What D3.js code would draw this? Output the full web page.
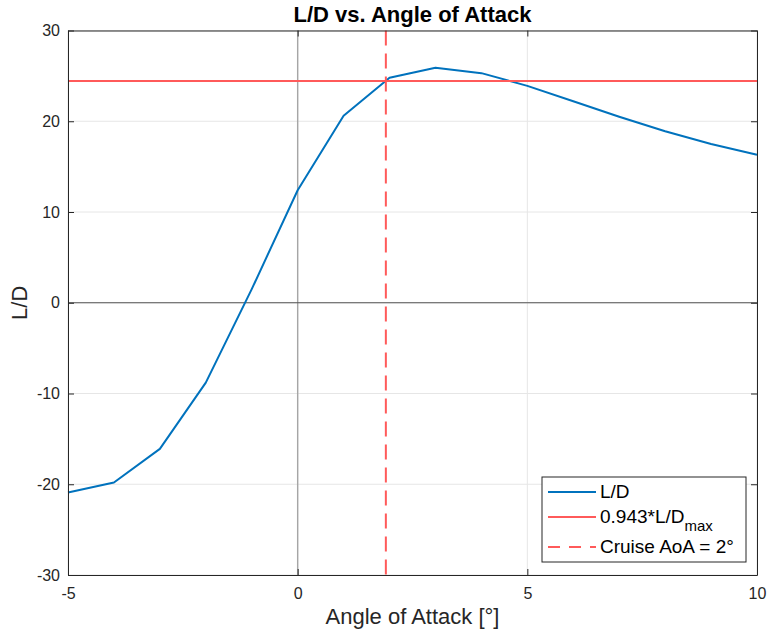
<!DOCTYPE html>
<html>
<head>
<meta charset="utf-8">
<script src="https://cdn.jsdelivr.net/npm/d3@7"></script>
<style>
  body { margin: 0; background: #fff; }
  svg { font-family: "Liberation Sans", Arial, Helvetica, sans-serif; }
</style>
</head>
<body>
<svg id="chart" width="767" height="634"></svg>
<script>
// data
var aoa = [-5, -4, -3, -2, -1, 0, 1, 2, 3, 4, 5, 6, 7, 8, 9, 10];
var ld = [-20.9, -19.8, -16.1, -8.8, 1.5, 12.4, 20.6, 24.8, 25.9, 25.3, 23.9, 22.2, 20.5, 18.9, 17.5, 16.3];
var ldFactor = 0.943;
var cruiseAoA = 1.92;
var xTicks = [-5, 0, 5, 10];
var yTicks = [-30, -20, -10, 0, 10, 20, 30];
var legendLabels = ["L/D", "0.943*L/D", "Cruise AoA = 2\u00b0"];

var svg = d3.select("#chart");
var margin = {top: 30.5, right: 10, bottom: 59, left: 68},
    width = 767 - margin.left - margin.right,
    height = 634 - margin.top - margin.bottom;

var g = svg.append("g")
    .attr("transform", "translate(" + margin.left + "," + margin.top + ")");

var x = d3.scaleLinear().domain([-5, 10]).range([0, width]);
var y = d3.scaleLinear().domain([-30, 30]).range([height, 0]);

var blue = "#0072bd", red = "#ff5a5a", axisCol = "#262626";

// grid
g.append("g").selectAll("line").data(xTicks).enter().append("line")
    .attr("x1", function (d) {return x(d);}).attr("x2", function (d) {return x(d);})
    .attr("y1", 0).attr("y2", height)
    .attr("stroke", "#e6e6e6").attr("stroke-width", 1);
g.append("g").selectAll("line").data(yTicks).enter().append("line")
    .attr("y1", function (d) {return y(d);}).attr("y2", function (d) {return y(d);})
    .attr("x1", 0).attr("x2", width)
    .attr("stroke", "#e6e6e6").attr("stroke-width", 1);

// zero lines
g.append("line")
    .attr("x1", x(0)).attr("x2", x(0)).attr("y1", 0).attr("y2", height)
    .attr("stroke", "#a6a6a6").attr("stroke-width", 1.4);
g.append("line")
    .attr("x1", 0).attr("x2", width).attr("y1", y(0)).attr("y2", y(0))
    .attr("stroke", "#555").attr("stroke-width", 1);

// L/D curve
var line = d3.line()
    .x(function (d, i) {return x(aoa[i]);})
    .y(function (d) {return y(d);});
g.append("path").datum(ld)
    .attr("d", line)
    .attr("fill", "none")
    .attr("stroke", blue)
    .attr("stroke-width", 2)
    .attr("stroke-linejoin", "round");

// 0.943*L/Dmax
var ldRef = ldFactor * d3.max(ld);
g.append("line")
    .attr("x1", 0).attr("x2", width).attr("y1", y(ldRef)).attr("y2", y(ldRef))
    .attr("stroke", red).attr("stroke-width", 2);

// cruise AoA
g.append("line")
    .attr("x1", x(cruiseAoA)).attr("x2", x(cruiseAoA)).attr("y1", 0).attr("y2", height)
    .attr("stroke", red).attr("stroke-width", 2)
    .attr("stroke-dasharray", "15,8");

// axes box with inner ticks
var fmt = function (d) {return String(d);};
var xAxisB = d3.axisBottom(x).tickValues(xTicks).tickSizeInner(-6).tickSizeOuter(0).tickPadding(13).tickFormat(fmt);
var xAxisT = d3.axisTop(x).tickValues(xTicks).tickSizeInner(-6).tickSizeOuter(0).tickFormat("");
var yAxisL = d3.axisLeft(y).tickValues(yTicks).tickSizeInner(-6).tickSizeOuter(0).tickPadding(8).tickFormat(fmt);
var yAxisR = d3.axisRight(y).tickValues(yTicks).tickSizeInner(-6).tickSizeOuter(0).tickFormat("");

function styleAxis(sel) {
    sel.selectAll("path, line").attr("stroke", axisCol).attr("stroke-width", 1);
    sel.selectAll("text").attr("fill", axisCol).style("font-size", "16px");
}
g.append("g").attr("transform", "translate(0," + height + ")").call(xAxisB).call(styleAxis);
g.append("g").call(xAxisT).call(styleAxis);
g.append("g").call(yAxisL).call(styleAxis);
g.append("g").attr("transform", "translate(" + width + ",0)").call(yAxisR).call(styleAxis);

// titles
svg.append("text")
    .attr("x", margin.left + width / 2).attr("y", 22)
    .attr("text-anchor", "middle")
    .style("font-size", "22px").style("font-weight", "bold")
    .attr("fill", "#000")
    .text("L/D vs. Angle of Attack");
svg.append("text")
    .attr("x", margin.left + width / 2).attr("y", 624)
    .attr("text-anchor", "middle")
    .style("font-size", "22px")
    .attr("fill", axisCol)
    .text("Angle of Attack [\u00b0]");
svg.append("text")
    .attr("transform", "translate(27," + (margin.top + height / 2) + ") rotate(-90)")
    .attr("text-anchor", "middle")
    .style("font-size", "22px")
    .attr("fill", axisCol)
    .text("L/D");

// legend
var lg = svg.append("g").attr("transform", "translate(542,477)");
lg.append("rect")
    .attr("width", 204).attr("height", 85)
    .attr("fill", "#fff").attr("stroke", axisCol).attr("stroke-width", 1);
var rowsY = [15, 40, 70];
var styles = [
    {c: blue, dash: null},
    {c: red, dash: null},
    {c: red, dash: "12,9"}
];
rowsY.forEach(function (ry, i) {
    lg.append("line")
        .attr("x1", 6).attr("x2", 54).attr("y1", ry).attr("y2", ry)
        .attr("stroke", styles[i].c).attr("stroke-width", 2)
        .attr("stroke-dasharray", styles[i].dash);
    var t = lg.append("text")
        .attr("x", 58).attr("y", ry + 6)
        .style("font-size", "19px")
        .attr("fill", "#000")
        .text(legendLabels[i]);
    if (i === 1) {
        t.append("tspan").attr("dy", 8).style("font-size", "15px").text("max");
    }
});
</script>
</body>
</html>
